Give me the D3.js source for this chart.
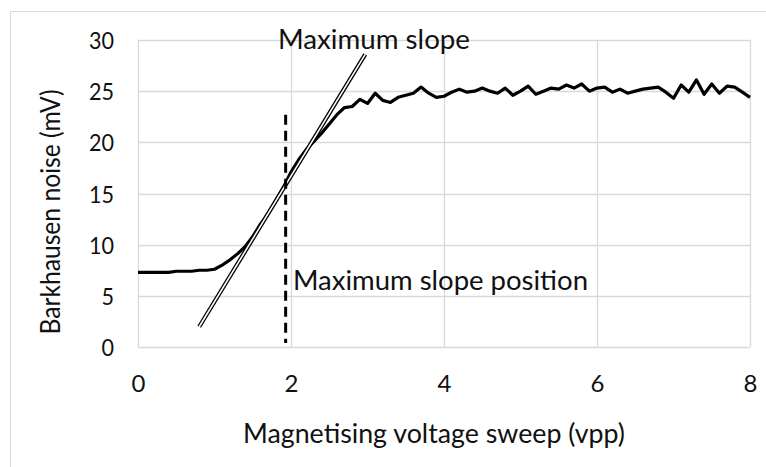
<!DOCTYPE html>
<html><head><meta charset="utf-8">
<script src="https://cdn.jsdelivr.net/npm/d3@7"></script>
<style>body{margin:0;background:#fff}svg{display:block}text{font-family:Lato,"Open Sans",sans-serif;fill:#111}</style>
</head><body>
<svg id="c" width="766" height="467"></svg>
<script>
const xValues = d3.range(0, 81).map(i => i / 10);
const noise = [7.3,7.3,7.3,7.3,7.3,7.4,7.4,7.4,7.5,7.5,7.6,
 8.0,8.5,9.1,9.8,10.8,12.0,13.0,14.3,15.6,17.1,
 18.3,19.3,20.1,20.9,21.8,22.7,23.4,23.5,24.2,23.8,
 24.8,24.1,23.9,24.4,24.6,24.8,25.4,24.8,24.4,24.5,
 24.9,25.2,24.9,25.0,25.3,25.0,24.8,25.3,24.6,25.0,
 25.5,24.7,25.0,25.3,25.2,25.6,25.3,25.7,25.0,25.3,
 25.4,24.9,25.2,24.8,25.0,25.2,25.3,25.4,24.9,24.3,
 25.6,24.9,26.1,24.7,25.7,24.8,25.5,25.4,24.9,24.4];
const slopeLine = [[0.80, 1.98], [2.97, 28.6]];
const slopePosX = 1.93;
const slopePosY = [0.4, 22.7];
const xTicks = [0, 2, 4, 6, 8];
const yTicks = [0, 5, 10, 15, 20, 25, 30];
const xTitle = "Magnetising voltage sweep (vpp)";
const yTitle = "Barkhausen noise (mV)";
const labelSlope = "Maximum slope";
const labelPos = "Maximum slope position";

const svg = d3.select("#c");
const x = d3.scaleLinear().domain([0, 8]).range([138, 750]);
const y = d3.scaleLinear().domain([0, 30]).range([347, 40]);

svg.append("rect").attr("x", 10.5).attr("y", 11.5).attr("width", 800).attr("height", 500)
  .attr("fill", "none").attr("stroke", "#d9d9d9");

const grid = svg.append("g");
grid.selectAll("line.h").data(yTicks).join("line").attr("class","h")
  .attr("x1", x(0)).attr("x2", x(8)).attr("y1", d => Math.round(y(d)) + 0.5).attr("y2", d => Math.round(y(d)) + 0.5)
  .attr("stroke", "#d9d9d9").attr("stroke-width", 1.3);
grid.selectAll("line.v").data(xTicks).join("line").attr("class","v")
  .attr("y1", y(0)).attr("y2", y(30)).attr("x1", d => Math.round(x(d)) + 0.5).attr("x2", d => Math.round(x(d)) + 0.5)
  .attr("stroke", "#d9d9d9").attr("stroke-width", 1.3);

const yAxis = d3.axisLeft(y).tickValues(yTicks).tickSize(0).tickPadding(0);
const ga = svg.append("g").attr("transform", "translate(114,0)").call(yAxis);
ga.select(".domain").remove();
ga.selectAll("text").attr("font-size", 24).attr("font-family", "Lato").attr("fill", "#111").attr("dy", "0.36em")
  .attr("transform", "scale(0.9,1)");

const xAxis = d3.axisBottom(x).tickValues(xTicks).tickSize(0).tickPadding(0);
const gx = svg.append("g").attr("transform", "translate(0,0)").call(xAxis);
gx.select(".domain").remove();
gx.selectAll("text").attr("font-size", 24).attr("font-family", "Lato").attr("fill", "#111")
  .attr("y", 392).attr("dy", 0);

svg.append("text").attr("x", 434).attr("y", 443).attr("text-anchor", "middle").attr("font-size", 26)
  .attr("textLength", 382).attr("lengthAdjust", "spacingAndGlyphs").text(xTitle);
svg.append("text").attr("transform", "translate(60,212) rotate(-90)").attr("text-anchor", "middle").attr("font-size", 26)
  .attr("textLength", 245).attr("lengthAdjust", "spacingAndGlyphs").text(yTitle);

const line = d3.line().x((d, i) => x(xValues[i])).y(d => y(d));
svg.append("path").datum(noise).attr("d", line).attr("fill", "none").attr("stroke", "#000")
  .attr("stroke-width", 3.2).attr("stroke-linejoin", "round");

const sl = d3.line().x(d => x(d[0])).y(d => y(d[1]));
svg.append("path").datum(slopeLine).attr("d", sl).attr("stroke", "#000").attr("stroke-width", 4.2);
svg.append("path").datum(slopeLine).attr("d", sl).attr("stroke", "#fff").attr("stroke-width", 1.6);

svg.append("line").attr("x1", x(slopePosX)).attr("x2", x(slopePosX))
  .attr("y1", y(slopePosY[1])).attr("y2", y(slopePosY[0]))
  .attr("stroke", "#000").attr("stroke-width", 3).attr("stroke-dasharray", "10,6");

svg.append("text").attr("x", 278).attr("y", 49).attr("font-size", 26)
  .attr("textLength", 192).attr("lengthAdjust", "spacingAndGlyphs").text(labelSlope);
svg.append("text").attr("x", 293).attr("y", 290).attr("font-size", 26)
  .attr("textLength", 295).attr("lengthAdjust", "spacingAndGlyphs").text(labelPos);
</script>
</body></html>
